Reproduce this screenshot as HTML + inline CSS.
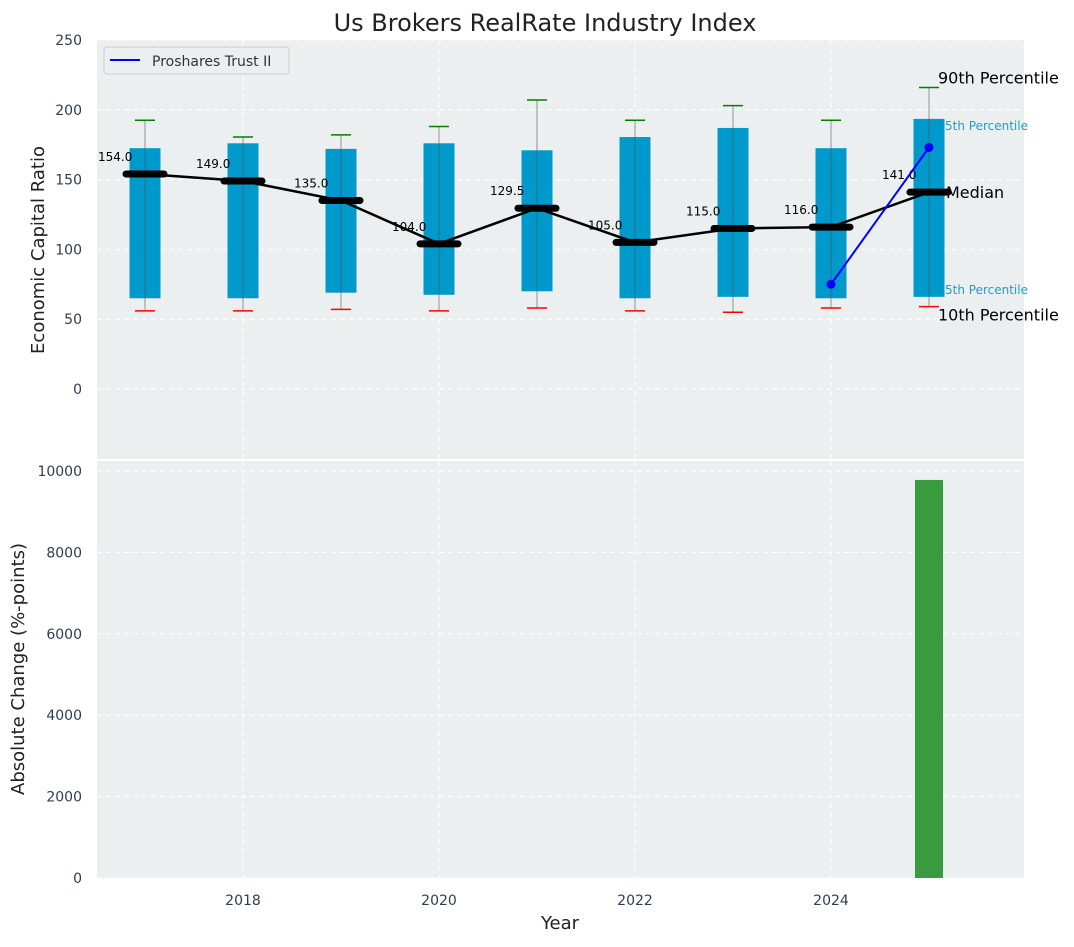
<!DOCTYPE html>
<html><head><meta charset="utf-8"><style>
body{margin:0;background:#fff;font-family:"Liberation Sans","DejaVu Sans",sans-serif}
svg text{font-family:"DejaVu Sans","Liberation Sans",sans-serif}
</style></head><body>
<svg id="chart" width="1074" height="942" xmlns="http://www.w3.org/2000/svg">
<text x="545" y="31" text-anchor="middle" font-size="24" fill="#222">Us Brokers RealRate Industry Index</text>
<rect x="97" y="40" width="927" height="419" fill="#ebeff0"/>
<rect x="97" y="461" width="927" height="417" fill="#ebeff0"/>
<g id="gtop"></g><g id="gbot"></g>
<text transform="translate(44,250) rotate(-90)" text-anchor="middle" font-size="18" fill="#222">Economic Capital Ratio</text>
<text transform="translate(24,669) rotate(-90)" text-anchor="middle" font-size="18" fill="#222">Absolute Change (%-points)</text>
<text x="560" y="929" text-anchor="middle" font-size="18" fill="#222">Year</text>
<g>
<rect x="104" y="47" width="185" height="27" rx="3" fill="#ebeff0" stroke="#ccc"/>
<line x1="110" y1="60" x2="140" y2="60" stroke="#0000ff" stroke-width="2"/>
<text x="152" y="66" font-size="14" fill="#333">Proshares Trust II</text>
</g>
</svg>
<script>
const years=[2017,2018,2019,2020,2021,2022,2023,2024,2025];
const medians=[154,149,135,104,129.5,105,115,116,141];
const q1=[65,65,69,67.5,70,65,66,65,66];
const q3=[172.5,176,172,176,171,180.5,187,172.5,193.5];
const p10=[56,56,57,56,58,56,55,58,59];
const p90=[192.5,180.5,182,188,207,192.5,203,192.5,216];
const trustYears=[2024,2025];
const trustVals=[75,173];
const changeYears=[2025];
const changeVals=[9780];
const topTicks=[0,50,100,150,200,250];
const botTicks=[0,2000,4000,6000,8000,10000];
const xTicks=[2018,2020,2022,2024];
const NS="http://www.w3.org/2000/svg";
const X=v=>243+(v-2018)*98;
const Y1=v=>389-v*1.396;
const Y2=v=>878-v*0.0407;
const svg=document.getElementById('chart');
const gTop=document.getElementById('gtop'),gBot=document.getElementById('gbot');
function mk(p,t,a){const e=document.createElementNS(NS,t);for(const k in a)e.setAttribute(k,a[k]);p.appendChild(e);return e;}
topTicks.forEach(t=>{
 const g=mk(gTop,'line',{x1:97,x2:1024,y1:Y1(t),y2:Y1(t),stroke:'#fff','stroke-dasharray':'5,4','stroke-width':1});
 
 
 const l=mk(svg,'text',{x:82,y:Y1(t)+5,'text-anchor':'end','font-size':14,fill:'#2c3e50'});l.textContent=t;
 
 
});
botTicks.forEach(t=>{
 const g=mk(gBot,'line',{x1:97,x2:1024,y1:Y2(t),y2:Y2(t),stroke:'#fff','stroke-dasharray':'5,4','stroke-width':1});
 
 
 const l=mk(svg,'text',{x:82,y:Y2(t)+5,'text-anchor':'end','font-size':14,fill:'#2c3e50'});l.textContent=t;
 
 
});
xTicks.forEach(t=>{
 [[40,459],[461,878]].forEach(r=>{const g=mk(gTop,'line',{x1:X(t),x2:X(t),y1:r[0],y2:r[1],stroke:'#fff','stroke-dasharray':'5,4'});
 
 });
 const l=mk(svg,'text',{x:X(t),y:905,'text-anchor':'middle','font-size':14,fill:'#2c3e50'});l.textContent=t;
 
 
});
years.forEach((y,i)=>{
 const x=X(y);
 const b=mk(gTop,'rect',{x:x-15.5,y:Y1(q3[i]),width:31,height:Y1(q1[i])-Y1(q3[i]),fill:'#0099cc'});
 
 
 const w=mk(gTop,'line',{x1:x,x2:x,y1:Y1(p90[i]),y2:Y1(p10[i]),stroke:'#555','stroke-opacity':0.6,'stroke-width':1});
 
 
 const c1=mk(gTop,'line',{x1:x-10,x2:x+10,y1:Y1(p90[i]),y2:Y1(p90[i]),stroke:'green','stroke-width':1.5});
 
 
 const c2=mk(gTop,'line',{x1:x-10,x2:x+10,y1:Y1(p10[i]),y2:Y1(p10[i]),stroke:'red','stroke-width':1.5});
 
 
});
const pl=mk(gTop,'polyline',{points:years.map((y,i)=>X(y)+','+Y1(medians[i])).join(' '),fill:'none',stroke:'#000','stroke-width':2.5});


years.forEach((y,i)=>{
 const x=X(y);
 const m=mk(gTop,'line',{x1:x-19,x2:x+19,y1:Y1(medians[i]),y2:Y1(medians[i]),stroke:'#000','stroke-width':7,'stroke-linecap':'round'});
 
 
 const t=mk(gTop,'text',{x:x-47,y:Y1(medians[i])-13,'font-size':12,fill:'#000'});t.textContent=medians[i].toFixed(1);
 
 
});
const tl=mk(gTop,'polyline',{points:trustYears.map((y,i)=>X(y)+','+Y1(trustVals[i])).join(' '),fill:'none',stroke:'#0000ff','stroke-width':2});


trustYears.forEach((y,i)=>{const c=mk(gTop,'circle',{cx:X(y),cy:Y1(trustVals[i]),r:4.5,fill:'#0000ff'});
 
 });
const li=years.length-1,lx=X(years[li]);
[[lx+9,Y1(p90[li])-4,'90th Percentile',16,'#000'],[lx+16,Y1(q3[li])+11,'5th Percentile',12,'#1aa0d0'],[lx+17,Y1(medians[li])+6,'Median',16,'#000'],[lx+16,Y1(q1[li])-3,'5th Percentile',12,'#1aa0d0'],[lx+9,Y1(p10[li])+14,'10th Percentile',16,'#000']].forEach(a=>{
 const t=mk(gTop,'text',{x:a[0],y:a[1],'font-size':a[3],fill:a[4]});t.textContent=a[2];
 
 
});
changeYears.forEach((y,i)=>{
 const r=mk(gBot,'rect',{x:X(y)-14,y:Y2(changeVals[i]),width:28,height:Y2(0)-Y2(changeVals[i]),fill:'#3a9a3e'});
 
 
});
</script>
</body></html>
